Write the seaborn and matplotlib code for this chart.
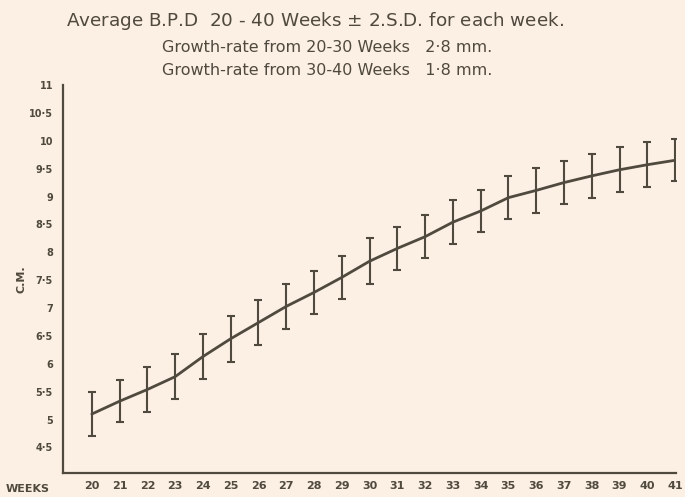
import numpy as np
import pandas as pd
import matplotlib
matplotlib.use("Agg")
import matplotlib.pyplot as plt
import seaborn as sns

# values
weeks = list(range(20, 42))
bpd_mean = [5.10, 5.33, 5.54, 5.77, 6.13, 6.45, 6.74, 7.03, 7.28, 7.55, 7.84,
            8.07, 8.28, 8.54, 8.74, 8.98, 9.11, 9.25, 9.37, 9.48, 9.57, 9.65]
two_sd = [0.40, 0.38, 0.40, 0.40, 0.40, 0.41, 0.40, 0.40, 0.39, 0.39, 0.41,
          0.39, 0.39, 0.39, 0.38, 0.39, 0.40, 0.39, 0.39, 0.40, 0.40, 0.38]
y_ticks = [4.5, 5, 5.5, 6, 6.5, 7, 7.5, 8, 8.5, 9, 9.5, 10, 10.5, 11]
y_labels = ["4·5", "5", "5·5", "6", "6·5", "7", "7·5", "8", "8·5", "9",
            "9·5", "10", "10·5", "11"]

title = "Average B.P.D  20 - 40 Weeks $\\pm$ 2.S.D. for each week."
sub1 = "Growth-rate from 20-30 Weeks   2·8 mm."
sub2 = "Growth-rate from 30-40 Weeks   1·8 mm."

df = pd.DataFrame({"week": weeks, "bpd": bpd_mean, "sd2": two_sd})

paper = "#fcefe3"
ink = "#4f4a3d"

sns.set_style("white")
plt.rcParams["font.family"] = ["DejaVu Sans"]

fig = plt.figure(figsize=(6.85, 4.97), dpi=100, facecolor=paper)
ax = fig.add_axes([0.0915, 0.048, 0.896, 0.781])
ax.set_facecolor(paper)

sns.lineplot(data=df, x="week", y="bpd", color=ink, linewidth=2.0, ax=ax)
ax.errorbar(df["week"], df["bpd"], yerr=df["sd2"], fmt="none", ecolor=ink,
            elinewidth=1.5, capsize=3, capthick=1.5)

ax.set_xlim(18.95, 41.05)
ax.set_ylim(4.04, 11.0)
ax.set_xticks(weeks)
ax.set_xticklabels([str(w) for w in weeks], fontsize=8, fontweight="bold",
                   color=ink)
ax.set_yticks(y_ticks)
ax.set_yticklabels(y_labels, fontsize=7, fontweight="bold", color=ink)
ax.tick_params(axis="both", direction="out", length=3, width=1, color=ink,
               pad=4)
ax.tick_params(axis="x", pad=3)

for side in ["top", "right"]:
    ax.spines[side].set_visible(False)
for side in ["left", "bottom"]:
    ax.spines[side].set_color(ink)
    ax.spines[side].set_linewidth(1.6)

ax.set_xlabel("")
ax.set_ylabel("C.M.", fontsize=8, fontweight="bold", color=ink, labelpad=2)
fig.text(0.008, 0.016, "WEEKS", fontsize=8, fontweight="bold", color=ink,
         ha="left", va="center")

fig.text(0.097, 0.958, title, fontsize=13.2, color=ink, ha="left", va="center")
fig.text(0.236, 0.905, sub1, fontsize=11.5, color=ink, ha="left", va="center")
fig.text(0.236, 0.858, sub2, fontsize=11.5, color=ink, ha="left", va="center")

fig.savefig("out.png", dpi=100, facecolor=paper)
